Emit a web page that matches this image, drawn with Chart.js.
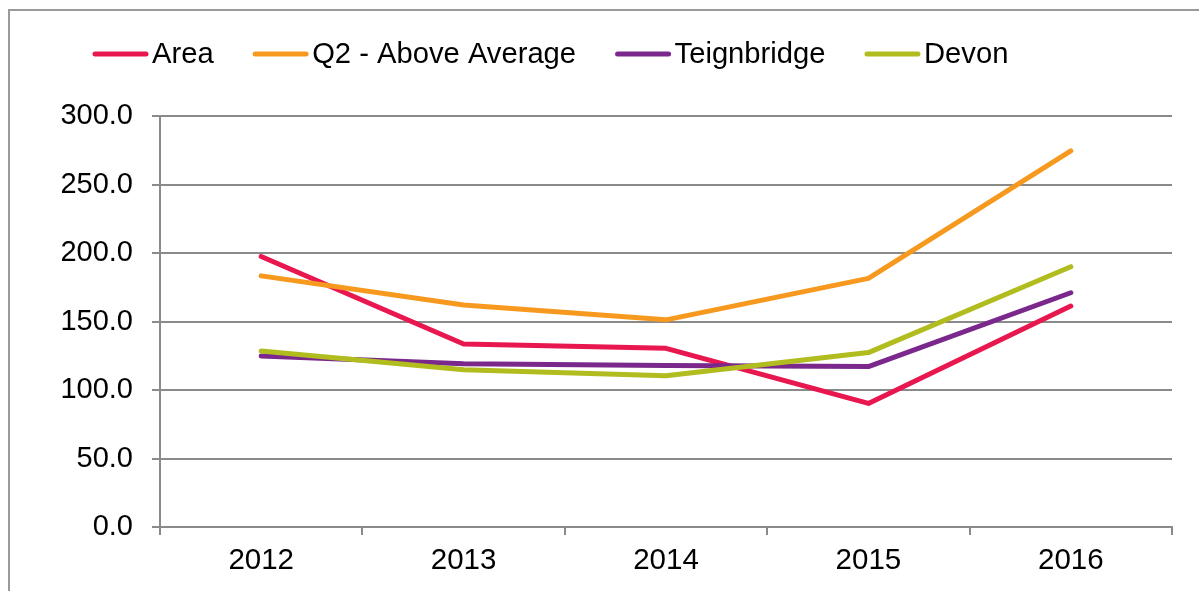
<!DOCTYPE html>
<html>
<head>
<meta charset="utf-8">
<script src="https://cdn.jsdelivr.net/npm/chart.js@4"></script>
<style>
html,body{margin:0;padding:0;background:#fff;}
#wrap{position:relative;width:1199px;height:591px;}
canvas{display:block;}
</style>
</head>
<body>
<div id="wrap"><canvas id="c" width="1199" height="591"></canvas></div>
<script>
const categories = ['2012', '2013', '2014', '2015', '2016'];
const seriesNames = ['Area', 'Q2 - Above Average', 'Teignbridge', 'Devon'];
const areaValues = [197.5, 133.6, 130.4, 90.2, 161.3];
const q2Values = [183.3, 162.1, 151.2, 181.5, 274.5];
const teignbridgeValues = [124.9, 119.1, 117.8, 117.1, 171.0];
const devonValues = [128.4, 114.7, 110.4, 127.3, 190.0];
const yTickLabels = ['0.0', '50.0', '100.0', '150.0', '200.0', '250.0', '300.0'];
const seriesColors = ['#E8174F', '#F7991E', '#7A288C', '#B1BC1E'];

const FONT = '"Liberation Sans", Arial, sans-serif';
const allValues = [areaValues, q2Values, teignbridgeValues, devonValues];

const datasets = allValues.map((vals, i) => ({
  label: seriesNames[i],
  data: vals,
  borderColor: seriesColors[i],
  backgroundColor: seriesColors[i],
  borderWidth: 5,
  borderCapStyle: 'round',
  borderJoinStyle: 'round',
  pointRadius: 0,
  tension: 0,
  fill: false,
  order: allValues.length - 1 - i
}));

const frameAndLegend = {
  id: 'frameAndLegend',
  beforeDraw(chart) {
    const ctx = chart.ctx;
    ctx.save();
    ctx.strokeStyle = '#9a9a9a';
    ctx.lineWidth = 2;
    ctx.strokeRect(9, 10, 1300, 700);
    ctx.restore();
  },
  afterDraw(chart) {
    const ctx = chart.ctx;
    ctx.save();
    ctx.font = '29.2px ' + FONT;
    ctx.textBaseline = 'middle';
    let x = 93;
    const y = 54;
    chart.data.datasets.forEach(ds => {
      ctx.strokeStyle = ds.borderColor;
      ctx.lineWidth = 5;
      ctx.lineCap = 'round';
      ctx.beginPath();
      ctx.moveTo(x + 2, y);
      ctx.lineTo(x + 53, y);
      ctx.stroke();
      x += 59;
      ctx.fillStyle = '#000';
      ctx.fillText(ds.label, x, y + 1);
      x += ctx.measureText(ds.label).width + 39.5;
    });
    ctx.restore();
  }
};

new Chart(document.getElementById('c'), {
  type: 'line',
  data: { labels: categories, datasets: datasets },
  plugins: [frameAndLegend],
  options: {
    responsive: false,
    animation: false,
    devicePixelRatio: 1,
    layout: { padding: { top: 116, right: 27, bottom: 0, left: 0 } },
    plugins: { legend: { display: false }, tooltip: { enabled: false } },
    scales: {
      x: {
        offset: true,
        grid: { offset: true, drawOnChartArea: false, drawTicks: true, tickLength: 8, color: '#8a8a8a', lineWidth: 2 },
        border: { display: true, color: '#8a8a8a', width: 2 },
        ticks: { color: '#000', font: { family: FONT, size: 29.5 }, padding: 8, maxRotation: 0 },
        afterFit(s) { s.height = 64; }
      },
      y: {
        min: 0, max: 300,
        grid: { color: '#8a8a8a', lineWidth: 2, tickLength: 8 },
        border: { display: true, color: '#8a8a8a', width: 2 },
        ticks: {
          stepSize: 50,
          color: '#000',
          font: { family: FONT, size: 29 },
          padding: 19,
          callback: (v) => yTickLabels[Math.round(v / 50)]
        },
        afterFit(s) { s.width = 160; }
      }
    }
  }
});
</script>
</body>
</html>
